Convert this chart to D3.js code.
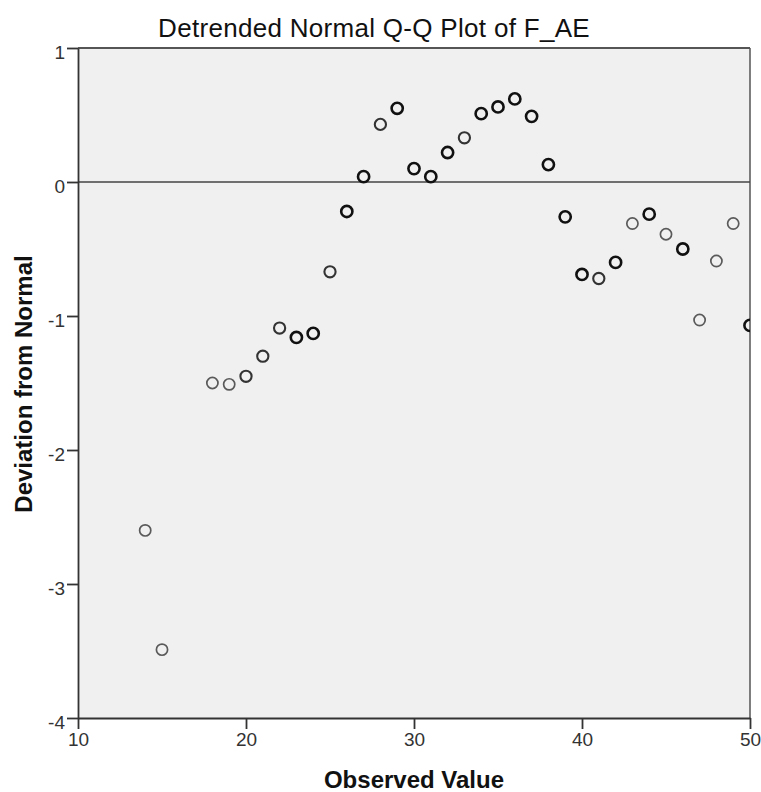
<!DOCTYPE html>
<html>
<head>
<meta charset="utf-8">
<script src="https://cdnjs.cloudflare.com/ajax/libs/d3/7.8.5/d3.min.js"></script>
<style>
  body { margin: 0; background: #fff; }
  text { font-family: "Liberation Sans", Arial, sans-serif; }
</style>
</head>
<body>
<script>
// observed values and their detrended deviation
const observed  = [14, 15, 18, 19, 20, 21, 22, 23, 24, 25, 26, 27, 28, 29, 30, 31, 32, 33,
                   34, 35, 36, 37, 38, 39, 40, 41, 42, 43, 44, 45, 46, 47, 48, 49, 50];
const deviation = [-2.60, -3.49, -1.50, -1.51, -1.45, -1.30, -1.09, -1.16, -1.13, -0.67, -0.22, 0.04, 0.43, 0.55, 0.10, 0.04, 0.22, 0.33,
                   0.51, 0.56, 0.62, 0.49, 0.13, -0.26, -0.69, -0.72, -0.60, -0.31, -0.24, -0.39, -0.50, -1.03, -0.59, -0.31, -1.07];
// how many cases sit on each point (darker ring = overplotted)
const freq      = [1, 1, 1, 1, 2, 2, 2, 3, 3, 2, 3, 3, 2, 3, 3, 3, 3, 2,
                   3, 3, 3, 3, 3, 3, 3, 2, 3, 1, 3, 1, 3, 1, 1, 1, 3];
const xTicks = [10, 20, 30, 40, 50];
const yTicks = [-4, -3, -2, -1, 0, 1];

const W = 761, H = 792;
const margin = {top: 48, right: 11, bottom: 74, left: 78};
const width = W - margin.left - margin.right,
      height = H - margin.top - margin.bottom;

const svg = d3.select("body").append("svg")
    .attr("width", W)
    .attr("height", H);

const x = d3.scaleLinear().domain([10, 50]).range([0, width]);
const y = d3.scaleLinear().domain([-4, 1]).range([height, 0]);

const g = svg.append("g")
    .attr("transform", "translate(" + margin.left + "," + margin.top + ")");

g.append("rect")
    .attr("width", width)
    .attr("height", height)
    .attr("fill", "#f0f0f0");

g.append("clipPath").attr("id", "clip")
  .append("rect").attr("width", width).attr("height", height);

// frame lines top + right
g.append("line").attr("x1", 0).attr("x2", width).attr("y1", 0).attr("y2", 0)
    .attr("stroke", "#555").attr("stroke-width", 1.8);
g.append("line").attr("x1", width).attr("x2", width).attr("y1", 0).attr("y2", height)
    .attr("stroke", "#555").attr("stroke-width", 1.5);

// zero reference
g.append("line")
    .attr("x1", 0).attr("x2", width)
    .attr("y1", y(0)).attr("y2", y(0))
    .attr("stroke", "#444").attr("stroke-width", 1.5);

const xAxis = g.append("g")
    .attr("transform", "translate(0," + height + ")")
    .call(d3.axisBottom(x).tickValues(xTicks).tickFormat(d => String(d))
      .tickSize(11).tickSizeOuter(0).tickPadding(3));

const yAxis = g.append("g")
    .call(d3.axisLeft(y).tickValues(yTicks).tickFormat(d => String(d))
      .tickSize(11).tickSizeOuter(0).tickPadding(2));

[xAxis, yAxis].forEach(a => {
  a.select(".domain").attr("stroke", "#333").attr("stroke-width", 1.8);
  a.selectAll(".tick line").attr("stroke", "#333").attr("stroke-width", 1.8);
  a.selectAll(".tick text")
    .attr("fill", "#333")
    .style("font-size", "19px")
    .style("font-family", "'Liberation Sans', Arial, sans-serif");
});
yAxis.selectAll(".tick text").attr("dy", "0.55em");
xAxis.selectAll(".tick text").attr("dy", "0.75em");

const pts = observed.map((v, i) => ({x: v, y: deviation[i], n: freq[i]}));

g.append("g").attr("clip-path", "url(#clip)")
  .selectAll("circle")
  .data(pts)
  .enter().append("circle")
    .attr("cx", d => x(d.x))
    .attr("cy", d => y(d.y))
    .attr("r", 5.6)
    .attr("fill", "none")
    .attr("stroke", d => d.n === 1 ? "#5a5a5a" : d.n === 2 ? "#333" : "#111")
    .attr("stroke-width", d => d.n === 1 ? 1.7 : d.n === 2 ? 2.1 : 2.6);

svg.append("text")
    .attr("x", 374)
    .attr("y", 37)
    .attr("text-anchor", "middle")
    .style("font-size", "26px")
    .style("letter-spacing", "0.3px")
    .attr("fill", "#111")
    .text("Detrended Normal Q-Q Plot of F_AE");

svg.append("text")
    .attr("x", margin.left + width / 2)
    .attr("y", 788)
    .attr("text-anchor", "middle")
    .style("font-size", "24px")
    .style("font-weight", "bold")
    .attr("fill", "#111")
    .text("Observed Value");

svg.append("text")
    .attr("transform", "translate(32,384) rotate(-90)")
    .attr("text-anchor", "middle")
    .style("font-size", "24px")
    .style("font-weight", "bold")
    .attr("fill", "#111")
    .text("Deviation from Normal");
</script>
</body>
</html>
